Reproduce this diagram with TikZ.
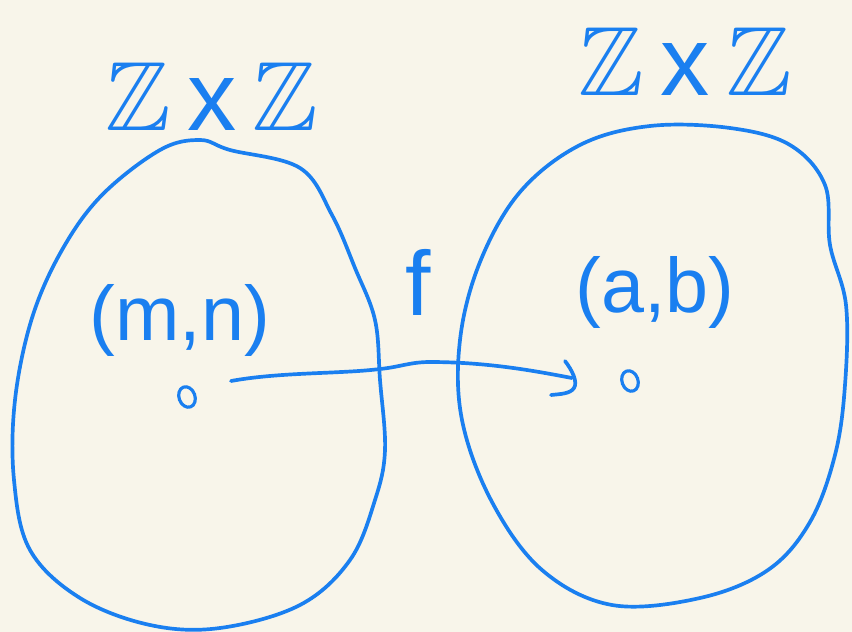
\documentclass[tikz,border=0pt]{standalone}
\usepackage{amssymb}
\usepackage{fontspec}
\setsansfont{Liberation Sans}
\usetikzlibrary{shapes.geometric}
\definecolor{bg}{HTML}{F8F5EA}
\definecolor{ink}{HTML}{1A7FF0}
\begin{document}
\begin{tikzpicture}[x=0.02cm,y=-0.02cm,
  stroke/.style={draw=ink,line width=2.1pt,line cap=round,line join=round},
  dot/.style={draw=ink,line width=1.8pt,ellipse,minimum width=0.32cm,minimum height=0.42cm,inner sep=0pt,rotate=20},
  lbl/.style={text=ink,inner sep=0pt,font=\sffamily\fontsize{44}{48}\selectfont},
  zlbl/.style={text=ink,inner sep=0pt,font=\sffamily\fontsize{56}{60}\selectfont}]
\fill[bg] (0,0) rectangle (852,632);
\useasboundingbox (0,0) rectangle (852,632);
% left blob
\draw[stroke] plot[smooth cycle,tension=0.6] coordinates {
 (230,150) (300,168) (332,215) (355,268) (375,320) (380,380) (385,450) (375,500)
 (350,560) (300,605) (220,628) (150,625) (80,598) (30,550) (14,480) (15,400)
 (32,318) (62,250) (102,195) (160,150) (200,140)};
% right blob
\draw[stroke] plot[smooth cycle,tension=0.6] coordinates {
 (790,145) (825,185) (830,245) (846,305) (845,385) (835,455) (810,522) (768,570)
 (700,598) (612,605) (542,570) (492,502) (462,420) (460,340) (480,262) (520,192)
 (580,145) (650,126) (730,128)};
% points
\node[dot] (p) at (187,397) {};
\node[dot] (q) at (630,381) {};
\coordinate (s) at (231,381);
\coordinate (t) at (572,378);
\coordinate (h1) at (565,361);
\coordinate (h2) at (551,395);
\draw[stroke] (s) .. controls (280,372) and (340,374) .. (380,369) .. controls (400,367) and (410,362) .. (430,362) .. controls (490,362) and (540,372) .. (t);
\draw[stroke] (h1) .. controls (572,370) and (578,382) .. (574,388) .. controls (570,394) and (560,394) .. (h2);
% labels
\node[lbl] (mn) at (180,320) {(m,n)};
\node[lbl] (ab) at (655,292) {(a,b)};
\node[lbl,font=\sffamily\fontsize{52}{56}\selectfont] (f) at (418,282) {f};
\node[zlbl] (z1) at (212,97) {$\mathbb{Z}$\,x\,$\mathbb{Z}$};
\node[zlbl] (z2) at (685,62) {$\mathbb{Z}$\,x\,$\mathbb{Z}$};
\end{tikzpicture}
\end{document}
